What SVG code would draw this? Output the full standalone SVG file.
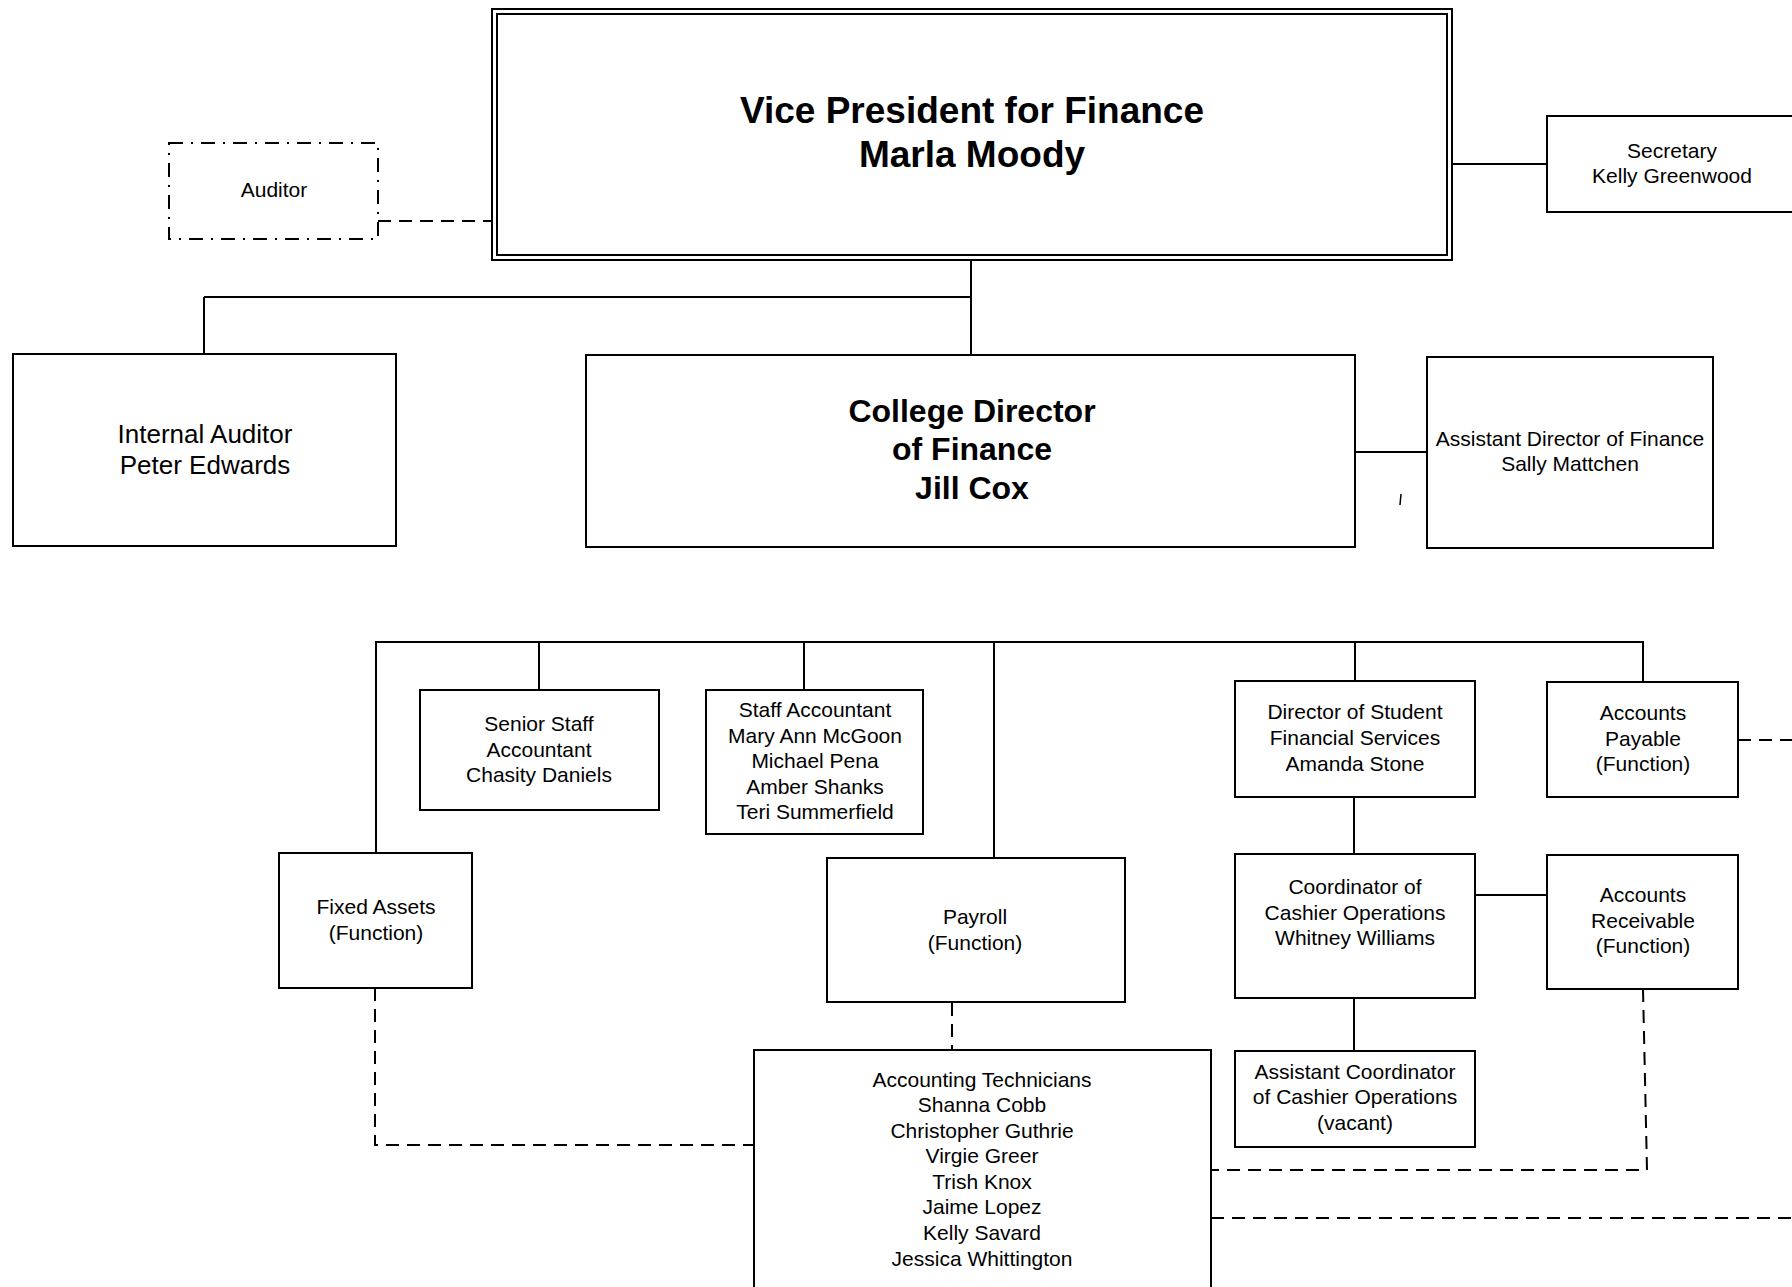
<svg xmlns="http://www.w3.org/2000/svg" width="1792" height="1287" viewBox="0 0 1792 1287">
<style>
  .box{fill:#fff;stroke:#000;stroke-width:2}
  .ln{fill:none;stroke:#000;stroke-width:2}
  .dash{fill:none;stroke:#000;stroke-width:2;stroke-dasharray:13 8}
  .dashdot{fill:#fff;stroke:#000;stroke-width:2;stroke-dasharray:14 8 2 8}
  text{font-family:"Liberation Sans",Arial,sans-serif;fill:#000;text-anchor:middle}
  .t21{font-size:21px}
  .t26{font-size:26px}
  .b32{font-size:32px;font-weight:bold}
  .b37{font-size:37px;font-weight:bold}
</style>
<rect width="1792" height="1287" fill="#fff"/>

<g id="connectors">
  <path class="dash" d="M378,221 H492"/>
  <path class="ln" d="M1452,164 H1547"/>
  <path class="ln" d="M971,260 V355"/>
  <path class="ln" d="M204,297 H971"/>
  <path class="ln" d="M204,297 V354"/>
  <path class="ln" d="M1355,452 H1427"/>
  <path class="ln" d="M376,853 V642 H1643 V682"/>
  <path class="ln" d="M539,642 V690"/>
  <path class="ln" d="M804,642 V690"/>
  <path class="ln" d="M994,642 V858"/>
  <path class="ln" d="M1355,642 V681"/>
  <path class="ln" d="M1354,797 V854"/>
  <path class="ln" d="M1475,895 H1547"/>
  <path class="ln" d="M1354,998 V1051"/>
  <path class="dash" d="M1738,740 H1792"/>
  <path class="dash" d="M952,1003 V1050"/>
  <path class="dash" d="M375,988 V1145 H754"/>
  <path class="dash" d="M1643,989 L1647,1170 H1211"/>
  <path class="dash" d="M1211,1218 H1792"/>
  <path d="M1401,494 L1400,505" stroke="#000" stroke-width="1.5"/>
</g>

<g id="auditor">
  <rect class="dashdot" x="169" y="143" width="209" height="96"/>
  <text class="t21" x="274" y="197">Auditor</text>
</g>

<g id="vp">
  <rect class="box" x="492" y="9" width="960" height="251"/>
  <rect class="box" x="497" y="14" width="950" height="241"/>
  <text class="b37" x="972" y="123">Vice President for Finance</text>
  <text class="b37" x="972" y="167">Marla Moody</text>
</g>

<g id="secretary">
  <rect class="box" x="1547" y="116" width="252" height="96"/>
  <text class="t21" x="1672" y="158">Secretary</text>
  <text class="t21" x="1672" y="183">Kelly Greenwood</text>
</g>

<g id="internal-auditor">
  <rect class="box" x="13" y="354" width="383" height="192"/>
  <text class="t26" x="205" y="443">Internal Auditor</text>
  <text class="t26" x="205" y="474">Peter Edwards</text>
</g>

<g id="college-director">
  <rect class="box" x="586" y="355" width="769" height="192"/>
  <text class="b32" x="972" y="422">College Director</text>
  <text class="b32" x="972" y="460">of Finance</text>
  <text class="b32" x="972" y="499">Jill Cox</text>
</g>

<g id="assistant-director">
  <rect class="box" x="1427" y="357" width="286" height="191"/>
  <text class="t21" x="1570" y="446">Assistant Director of Finance</text>
  <text class="t21" x="1570" y="471">Sally Mattchen</text>
</g>

<g id="senior-staff">
  <rect class="box" x="420" y="690" width="239" height="120"/>
  <text class="t21" x="539" y="731">Senior Staff</text>
  <text class="t21" x="539" y="757">Accountant</text>
  <text class="t21" x="539" y="782">Chasity Daniels</text>
</g>

<g id="staff-accountant">
  <rect class="box" x="706" y="690" width="217" height="144"/>
  <text class="t21" x="815" y="717">Staff Accountant</text>
  <text class="t21" x="815" y="743">Mary Ann McGoon</text>
  <text class="t21" x="815" y="768">Michael Pena</text>
  <text class="t21" x="815" y="794">Amber Shanks</text>
  <text class="t21" x="815" y="819">Teri Summerfield</text>
</g>

<g id="fixed-assets">
  <rect class="box" x="279" y="853" width="193" height="135"/>
  <text class="t21" x="376" y="914">Fixed Assets</text>
  <text class="t21" x="376" y="940">(Function)</text>
</g>

<g id="payroll">
  <rect class="box" x="827" y="858" width="298" height="144"/>
  <text class="t21" x="975" y="924">Payroll</text>
  <text class="t21" x="975" y="950">(Function)</text>
</g>

<g id="director-student">
  <rect class="box" x="1235" y="681" width="240" height="116"/>
  <text class="t21" x="1355" y="719">Director of Student</text>
  <text class="t21" x="1355" y="745">Financial Services</text>
  <text class="t21" x="1355" y="771">Amanda Stone</text>
</g>

<g id="accounts-payable">
  <rect class="box" x="1547" y="682" width="191" height="115"/>
  <text class="t21" x="1643" y="720">Accounts</text>
  <text class="t21" x="1643" y="746">Payable</text>
  <text class="t21" x="1643" y="771">(Function)</text>
</g>

<g id="coordinator">
  <rect class="box" x="1235" y="854" width="240" height="144"/>
  <text class="t21" x="1355" y="894">Coordinator of</text>
  <text class="t21" x="1355" y="920">Cashier Operations</text>
  <text class="t21" x="1355" y="945">Whitney Williams</text>
</g>

<g id="accounts-receivable">
  <rect class="box" x="1547" y="855" width="191" height="134"/>
  <text class="t21" x="1643" y="902">Accounts</text>
  <text class="t21" x="1643" y="928">Receivable</text>
  <text class="t21" x="1643" y="953">(Function)</text>
</g>

<g id="assistant-coordinator">
  <rect class="box" x="1235" y="1051" width="240" height="96"/>
  <text class="t21" x="1355" y="1079">Assistant Coordinator</text>
  <text class="t21" x="1355" y="1104">of Cashier Operations</text>
  <text class="t21" x="1355" y="1130">(vacant)</text>
</g>

<g id="accounting-technicians">
  <rect class="box" x="754" y="1050" width="457" height="260"/>
  <text class="t21" x="982" y="1087">Accounting Technicians</text>
  <text class="t21" x="982" y="1112">Shanna Cobb</text>
  <text class="t21" x="982" y="1138">Christopher Guthrie</text>
  <text class="t21" x="982" y="1163">Virgie Greer</text>
  <text class="t21" x="982" y="1189">Trish Knox</text>
  <text class="t21" x="982" y="1214">Jaime Lopez</text>
  <text class="t21" x="982" y="1240">Kelly Savard</text>
  <text class="t21" x="982" y="1266">Jessica Whittington</text>
</g>
</svg>
